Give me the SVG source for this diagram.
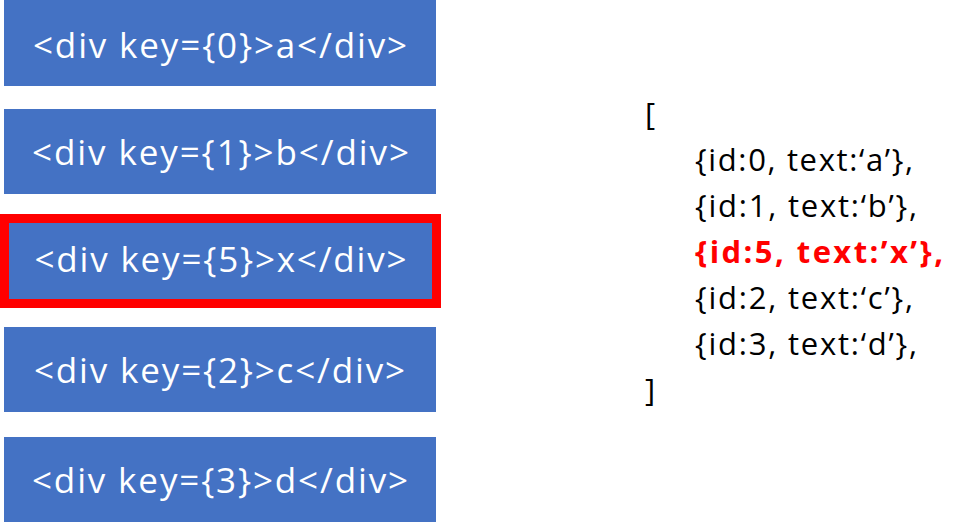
<svg xmlns="http://www.w3.org/2000/svg" width="969" height="526" viewBox="0 0 969 526">
<style>
.box{fill:#4472C4;}
.hl{fill:#4472C4;stroke:#FF0000;stroke-width:9;}
.bt{font-family:"Open Sans","Noto Sans","Liberation Sans",sans-serif;font-size:35px;fill:#FFFFFF;text-anchor:middle;}
.lt{font-family:"Open Sans","Noto Sans","Liberation Sans",sans-serif;font-size:31px;fill:#000000;}
.red{fill:#FF0000;font-weight:bold;}
</style>
<rect width="969" height="526" fill="#FFFFFF"/>
<g id="node-a">
<rect class="box" x="4" y="0" width="432" height="86"/>
<text class="bt" x="220" y="58" textLength="374" lengthAdjust="spacing">&lt;div key={0}&gt;a&lt;/div&gt;</text>
</g>
<g id="node-b">
<rect class="box" x="4" y="109" width="432" height="85"/>
<text class="bt" x="220.5" y="165" textLength="377" lengthAdjust="spacing">&lt;div key={1}&gt;b&lt;/div&gt;</text>
</g>
<g id="node-x">
<rect class="hl" x="4.5" y="218.5" width="432" height="85"/>
<text class="bt" x="220.5" y="272" textLength="372" lengthAdjust="spacing">&lt;div key={5}&gt;x&lt;/div&gt;</text>
</g>
<g id="node-c">
<rect class="box" x="4" y="327" width="432" height="85"/>
<text class="bt" x="219.5" y="383" textLength="371" lengthAdjust="spacing">&lt;div key={2}&gt;c&lt;/div&gt;</text>
</g>
<g id="node-d">
<rect class="box" x="4" y="437" width="432" height="85"/>
<text class="bt" x="220" y="493" textLength="376" lengthAdjust="spacing">&lt;div key={3}&gt;d&lt;/div&gt;</text>
</g>
<g id="array">
<text class="lt" x="645" y="124.5">[</text>
<text class="lt" x="695" y="170.5" textLength="218" lengthAdjust="spacing">{id:0, text:‘a’},</text>
<text class="lt" x="695" y="216.5" textLength="222" lengthAdjust="spacing">{id:1, text:‘b’},</text>
<text class="lt red" x="695" y="262.5" textLength="248" lengthAdjust="spacing">{id:5, text:’x’},</text>
<text class="lt" x="695" y="308.5" textLength="218" lengthAdjust="spacing">{id:2, text:‘c’},</text>
<text class="lt" x="695" y="354.5" textLength="222" lengthAdjust="spacing">{id:3, text:‘d’},</text>
<text class="lt" x="645" y="400.5">]</text>
</g>
<g id="connectors"></g>
</svg>
